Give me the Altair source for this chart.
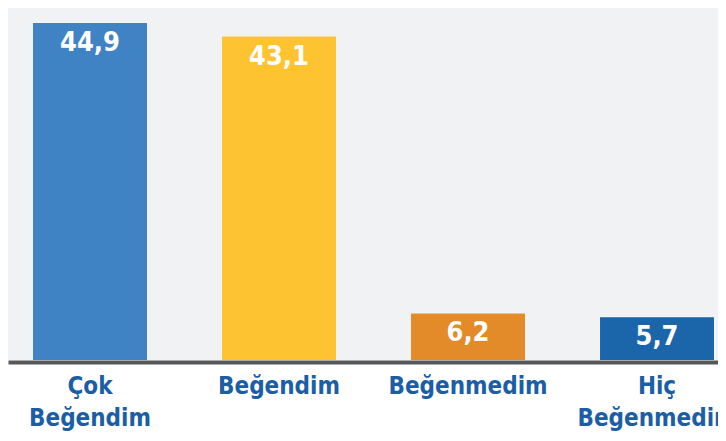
import altair as alt
import pandas as pd

categories = ["Çok Beğendim", "Beğendim", "Beğenmedim", "Hiç Beğenmedim"]
values = [44.9, 43.1, 6.2, 5.7]
labels = ["44,9", "43,1", "6,2", "5,7"]
colors = ["#4083c5", "#fec330", "#e38b29", "#1b65aa"]

FONT = "Liberation Sans Narrow, DejaVu Sans Condensed, sans-serif"

df = pd.DataFrame({"cat": categories, "value": values, "label": labels})

xscale = alt.Scale(paddingInner=0.397, paddingOuter=0.0768, align=0.862)
yscale = alt.Scale(domain=[0, 46.9], nice=False, zero=True)

x = alt.X(
    "cat:N",
    sort=categories,
    scale=xscale,
    axis=alt.Axis(
        title=None,
        labelExpr="split(datum.label, ' ')",
        labelFont=FONT,
        labelFontSize=24,
        labelFontWeight="bold",
        labelColor="#1b5ea6",
        labelAngle=0,
        ticks=False,
        domainColor="#555759",
        domainWidth=4,
        offset=2,
        labelPadding=12,
        labelLineHeight=32,
        labelBaseline="top",
        grid=False,
    ),
)
y = alt.Y("value:Q", scale=yscale, axis=None)

bars = alt.Chart(df).mark_bar().encode(
    x=x,
    y=y,
    color=alt.Color("cat:N", scale=alt.Scale(domain=categories, range=colors), legend=None),
)
text = alt.Chart(df).mark_text(
    baseline="alphabetic", dy=28, font=FONT, fontSize=27, fontWeight="bold", color="white"
).encode(
    x=alt.X("cat:N", sort=categories, scale=xscale),
    y=alt.Y("value:Q", scale=yscale, axis=None),
    text="label:N",
)

chart = (
    (bars + text)
    .properties(
        width=710,
        height=352,
        autosize=alt.AutoSizeParams(type="none"),
        padding={"left": 0, "top": 0, "right": 0, "bottom": 73},
    )
    .configure_view(fill="#f1f2f4", stroke=None)
)

chart.save("out.html", embed_options={"renderer": "svg", "actions": False})
